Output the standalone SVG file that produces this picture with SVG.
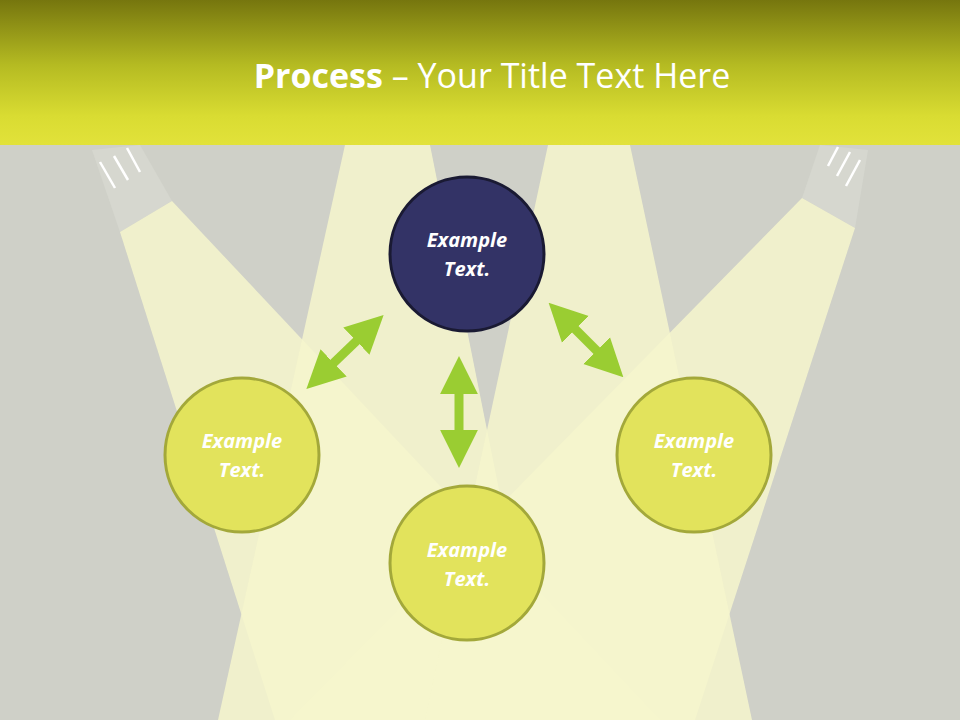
<svg xmlns="http://www.w3.org/2000/svg" width="960" height="720" viewBox="0 0 960 720">
<defs>
<linearGradient id="hdr" x1="0" y1="0" x2="0" y2="1">
<stop offset="0" stop-color="#76760e"/><stop offset="0.45" stop-color="#b5bb22"/><stop offset="0.8" stop-color="#d9dc32"/><stop offset="1" stop-color="#e2e23a"/>
</linearGradient>
<marker id="ah" viewBox="0 0 10 10" refX="5" refY="5" markerWidth="4.2" markerHeight="4.6" orient="auto-start-reverse"><path d="M0,0 L10,5 L0,10 z" fill="#9acd32"/></marker>
<style>
.beam{fill:#f6f6cc;opacity:0.85}
.lamp{fill:#d6d7cf}
.ray{stroke:#ffffff;stroke-width:2.5}
.lt{fill:#e2e35c;stroke:#a3a83a;stroke-width:3}
.dk{fill:#333366;stroke:#1a1a33;stroke-width:3}
.lbl{font-family:"Open Sans","Liberation Sans",sans-serif;font-weight:bold;font-style:italic;font-size:20px;fill:#ffffff;text-anchor:middle}
.conn{stroke:#9acd32;stroke-width:9;fill:none;marker-start:url(#ah);marker-end:url(#ah)}
</style>
</defs>
<rect width="960" height="720" fill="#cfd0c8"/>
<g id="background">
<polygon class="lamp" points="92,150 140,145 172,201 120,232"/>
<polygon class="lamp" points="868,150 820,145 802,198 855,228"/>
<line class="ray" x1="100" y1="162" x2="115" y2="188"/>
<line class="ray" x1="114" y1="156" x2="128" y2="180"/>
<line class="ray" x1="127" y1="148" x2="140" y2="172"/>
<line class="ray" x1="860" y1="160" x2="846" y2="186"/>
<line class="ray" x1="850" y1="152" x2="837" y2="176"/>
<line class="ray" x1="838" y1="147" x2="828" y2="166"/>
<polygon class="beam" points="120,232 172,201 660,720 275,720"/>
<polygon class="beam" points="855,228 802,198 290,720 695,720"/>
<polygon class="beam" points="345,145 430,145 545,720 218,720"/>
<polygon class="beam" points="548,145 630,145 752,720 425,720"/>
</g>
<g id="header">
<rect x="0" y="0" width="960" height="145" fill="url(#hdr)"/>
<text x="492" y="88" text-anchor="middle" font-family="Open Sans,Liberation Sans,sans-serif" font-size="34" fill="#ffffff"><tspan font-weight="bold">Process</tspan> – Your Title Text Here</text>
</g>
<g id="connectors">
<line class="conn" x1="370" y1="328" x2="320" y2="376"/>
<line class="conn" x1="562" y1="316" x2="610" y2="364"/>
<line class="conn" x1="459" y1="375" x2="459" y2="449"/>
</g>
<g id="node-top"><circle class="dk" cx="467" cy="254" r="77"/><text class="lbl" x="467" y="247">Example</text><text class="lbl" x="467" y="276">Text.</text></g>
<g id="node-left"><circle class="lt" cx="242" cy="455" r="77"/><text class="lbl" x="242" y="448">Example</text><text class="lbl" x="242" y="477">Text.</text></g>
<g id="node-right"><circle class="lt" cx="694" cy="455" r="77"/><text class="lbl" x="694" y="448">Example</text><text class="lbl" x="694" y="477">Text.</text></g>
<g id="node-bottom"><circle class="lt" cx="467" cy="563" r="77"/><text class="lbl" x="467" y="557">Example</text><text class="lbl" x="467" y="586">Text.</text></g>
</svg>
